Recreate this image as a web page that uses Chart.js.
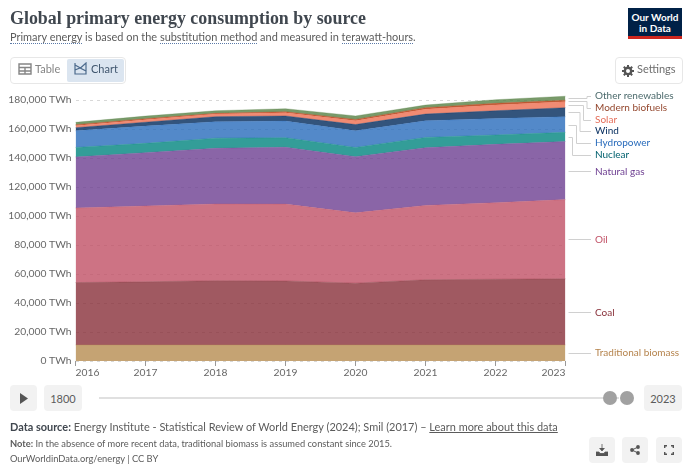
<!DOCTYPE html>
<html>
<head>
<meta charset="utf-8">
<script src="https://cdn.jsdelivr.net/npm/chart.js@4"></script>
<style>
  html, body { margin: 0; padding: 0; background: #fff; }
  body { width: 690px; height: 470px; position: relative; overflow: hidden; font-family: Lato, sans-serif; color: #5b5b5b; }
  canvas { position: absolute; left: 0; top: 0; }
  .abs { position: absolute; white-space: nowrap; }
  .dotted { border-bottom: 1px dotted #5b7aa8; }
  .btn { position: absolute; background: #f2f2f2; border-radius: 4px; display: flex; align-items: center; justify-content: center; font-size: 11px; color: #5b5b5b; }
  .outline { position: absolute; border: 1px solid #e7e7e7; border-radius: 4px; box-sizing: border-box; }
</style>
</head>
<body>
<canvas id="chart" width="690" height="470"></canvas>

<div class="abs" style="left:10px;top:8px;font:bold 17.9px 'Liberation Serif',serif;color:#40474f">Global primary energy consumption by source</div>
<div class="abs" style="left:10px;top:29px;font-size:10.95px;line-height:15px"><span class="dotted">Primary energy</span> is based on the <span class="dotted">substitution method</span> and measured in <span class="dotted">terawatt-hours</span>.</div>

<div class="abs" style="left:628px;top:8px;width:54px;height:31px;background:#002147;border-bottom:3px solid #ce261e;box-sizing:border-box;color:#fff;font-weight:bold;font-size:10px;line-height:10.5px;text-align:center;padding-top:4px">Our World<br>in Data</div>

<div class="outline" style="left:10px;top:57px;width:116px;height:27px"></div>
<div class="abs" style="left:67px;top:59px;width:57px;height:23px;background:#dbe5f0;border-radius:2px"></div>
<svg class="abs" style="left:18px;top:63px" width="14" height="12" viewBox="0 0 14 12"><path d="M1 1h12v10H1zM1 4.5h12M1 8h12M7 4.5V11" fill="none" stroke="#858585" stroke-width="1.4"/></svg>
<div class="abs" style="left:35px;top:62px;font-size:11px;color:#858585">Table</div>
<svg class="abs" style="left:74px;top:62px" width="13" height="13" viewBox="0 0 13 13"><path d="M1 1v11h11V1L6.5 6 1 3M1 8l5-2 6 3" fill="none" stroke="#4c6a8c" stroke-width="1.2"/></svg>
<div class="abs" style="left:91px;top:62px;font-size:11px;color:#40566e">Chart</div>

<div class="outline" style="left:615px;top:57px;width:68px;height:27px"></div>
<svg class="abs" style="left:622px;top:65px" width="12" height="12" viewBox="0 0 12 12"><circle cx="6" cy="6" r="3.2" fill="none" stroke="#555" stroke-width="2.4"/><path d="M6 0v2.4M6 9.6V12M0 6h2.4M9.6 6H12M1.8 1.8l1.7 1.7M8.5 8.5l1.7 1.7M1.8 10.2l1.7-1.7M8.5 3.5l1.7-1.7" stroke="#555" stroke-width="2"/></svg>
<div class="abs" style="left:637px;top:62px;font-size:11px;color:#6e6e6e">Settings</div>

<div class="btn" style="left:10px;top:385px;width:27px;height:26px"><svg width="10" height="11" viewBox="0 0 10 11"><path d="M1 0l8 5.5-8 5.5z" fill="#555"/></svg></div>
<div class="btn" style="left:44px;top:385px;width:38px;height:26px">1800</div>
<div class="abs" style="left:99px;top:397px;width:520px;height:2px;background:#e0e0e0"></div>
<div class="abs" style="left:603px;top:391px;width:14px;height:14px;border-radius:50%;background:#a1a1a1"></div>
<div class="abs" style="left:620px;top:391px;width:14px;height:14px;border-radius:50%;background:#a1a1a1"></div>
<div class="btn" style="left:644px;top:385px;width:38px;height:26px">2023</div>

<div class="abs" style="left:10px;top:419px;font-size:10.94px;line-height:16px"><b style="color:#40474f">Data source:</b> Energy Institute - Statistical Review of World Energy (2024); Smil (2017) – <span style="text-decoration:underline">Learn more about this data</span></div>
<div class="abs" style="left:10px;top:437px;font-size:9.3px;line-height:14px"><b>Note:</b> In the absence of more recent data, traditional biomass is assumed constant since 2015.</div>
<div class="abs" style="left:10px;top:452px;font-size:9.3px;line-height:14px">OurWorldinData.org/energy | CC BY</div>

<div class="btn" style="left:589px;top:437px;width:26px;height:26px"><svg width="12" height="12" viewBox="0 0 12 12"><path d="M6 0v6M3.5 4L6 7l2.5-3M0 8h3l1 1.5h4L9 8h3v4H0z" fill="#555" stroke="#555" stroke-width=".8"/></svg></div>
<div class="btn" style="left:622px;top:437px;width:26px;height:26px"><svg width="10" height="10" viewBox="0 0 10 10"><circle cx="2" cy="5" r="1.9" fill="#555"/><circle cx="8" cy="2" r="1.9" fill="#555"/><circle cx="8" cy="8" r="1.9" fill="#555"/><path d="M2 5l6-3M2 5l6 3" stroke="#555"/></svg></div>
<div class="btn" style="left:656px;top:437px;width:26px;height:26px"><svg width="10" height="10" viewBox="0 0 10 10"><path d="M.7 3V.7H3M7 .7h2.3V3M9.3 7v2.3H7M3 9.3H.7V7" fill="none" stroke="#555" stroke-width="1.4"/></svg></div>

<script>
// Годы и значения (TWh)
const years = ['2016', '2017', '2018', '2019', '2020', '2021', '2022', '2023'];
const yTicks = [0, 20000, 40000, 60000, 80000, 100000, 120000, 140000, 160000, 180000];
const traditionalBiomass = [11100, 11100, 11100, 11100, 11100, 11100, 11100, 11100];
const coal = [43000, 43500, 44300, 44100, 42600, 44900, 45300, 45600];
const oil = [51400, 52300, 52900, 53000, 48500, 51300, 52800, 54600];
const naturalGas = [35200, 36800, 38400, 39200, 38700, 39800, 40200, 40100];
const nuclear = [6600, 6400, 7000, 6600, 6400, 7100, 6500, 6300];
const hydropower = [11500, 11900, 11300, 11500, 11500, 11500, 11400, 10800];
const wind = [2100, 2700, 3500, 3500, 4300, 4600, 5300, 6200];
const solar = [1400, 1700, 1800, 2200, 2600, 3300, 3900, 4100];
const biofuels = [700, 700, 500, 700, 900, 1100, 1200, 1000];
const otherRenewables = [1600, 1800, 1800, 2100, 2400, 1800, 2500, 2800];

const seriesNames = ['Traditional biomass', 'Coal', 'Oil', 'Natural gas', 'Nuclear', 'Hydropower', 'Wind', 'Solar', 'Modern biofuels', 'Other renewables'];
const seriesValues = [traditionalBiomass, coal, oil, naturalGas, nuclear, hydropower, wind, solar, biofuels, otherRenewables];
const fillColors = ['#B78C50', '#883039', '#C15065', '#6D3E91', '#00847E', '#286BBB', '#00295B', '#EE6E50', '#B13507', '#578145'];
const labelColors = ['#B5834C', '#883039', '#C15065', '#6D3E91', '#00606E', '#286BBB', '#00295B', '#E56E5A', '#94482F', '#4C6A6C'];

// Подписи справа: y текста и x излома соединительной линии
const labelY = [353, 313, 240, 171.5, 155, 143, 131, 119.5, 107.5, 95.5];
const elbowX = [null, null, null, null, 572.5, 576.5, 580, 583.5, 587, 587];

function alpha(hex, a) {
  const n = parseInt(hex.slice(1), 16);
  return `rgba(${n >> 16},${(n >> 8) & 255},${n & 255},${a})`;
}

const endLabels = {
  id: 'endLabels',
  afterDraw(chart) {
    const { ctx } = chart;
    const y = chart.scales.y;
    let base = 0;
    ctx.save();
    ctx.font = '10px Lato';
    ctx.textBaseline = 'middle';
    seriesNames.forEach((name, i) => {
      const v = seriesValues[i][years.length - 1];
      const startY = Math.round(y.getPixelForValue(base + v / 2)) + 0.5;
      base += v;
      const endY = labelY[i];
      ctx.strokeStyle = '#d0d0d0';
      ctx.lineWidth = 1;
      ctx.beginPath();
      ctx.moveTo(568.5, startY);
      if (elbowX[i]) {
        ctx.lineTo(elbowX[i], startY);
        ctx.lineTo(elbowX[i], Math.round(endY) + 0.5);
      }
      ctx.lineTo(591, elbowX[i] ? Math.round(endY) + 0.5 : startY);
      ctx.stroke();
      ctx.fillStyle = labelColors[i];
      ctx.fillText(name, 595, endY);
    });
    ctx.restore();
  }
};

new Chart(document.getElementById('chart'), {
  type: 'line',
  data: {
    labels: years,
    datasets: seriesNames.map((name, i) => ({
      label: name,
      data: seriesValues[i],
      fill: i === 0 ? 'origin' : '-1',
      backgroundColor: alpha(fillColors[i], 0.8),
      borderColor: alpha(fillColors[i], 0.3),
      borderWidth: 1,
      pointRadius: 0,
      tension: 0
    }))
  },
  options: {
    responsive: false,
    animation: false,
    layout: { padding: { left: 0, right: 124.5, top: 85.5, bottom: 0 } },
    plugins: { legend: { display: false }, tooltip: { enabled: false } },
    scales: {
      x: {
        offset: false,
        afterFit(scale) { scale.height = 109; },
        border: { display: false },
        grid: { drawOnChartArea: false, tickLength: 5, color: '#999' },
        ticks: { align: 'inner', maxRotation: 0, padding: 0, color: '#666', font: { family: 'Lato', size: 10.3 } }
      },
      y: {
        stacked: true,
        min: 0,
        max: 190000,
        afterFit(scale) { scale.width = 75.5; },
        afterBuildTicks(scale) { scale.ticks = yTicks.map(value => ({ value })); },
        border: { display: false, dash: [3, 4] },
        grid: { drawTicks: false, color: '#d8d8d8' },
        ticks: {
          padding: 4,
          color: '#666',
          font: { family: 'Lato', size: 10.3 },
          callback: v => v.toLocaleString('en-US') + ' TWh'
        }
      }
    }
  },
  plugins: [endLabels]
});
</script>
</body>
</html>
